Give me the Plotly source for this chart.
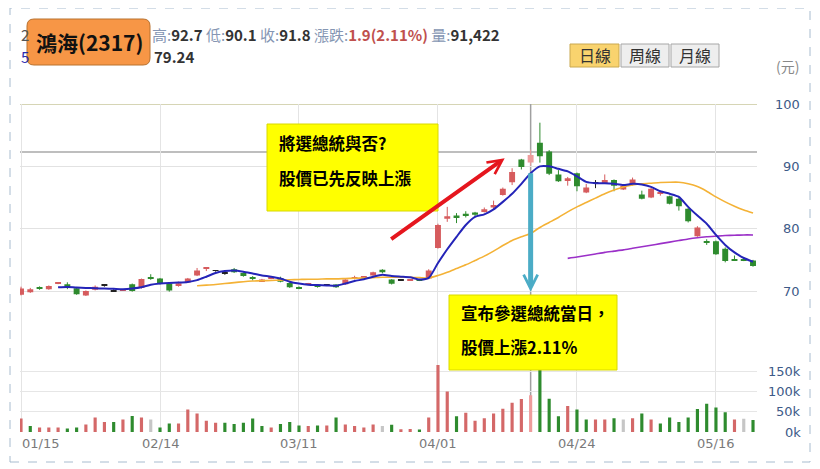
import plotly.graph_objects as go

# ---------------- data ----------------
dates = ['01/15','01/16','01/17','01/18','01/21','01/22','01/23','01/24','01/25','01/28','01/29','01/30',
         '02/11','02/12','02/13','02/14','02/15','02/18','02/19','02/20','02/21','02/22','02/25','02/26','02/27',
         '03/04','03/05','03/06','03/07','03/08','03/11','03/12','03/13','03/14','03/15','03/18','03/19','03/20',
         '03/21','03/22','03/25','03/26','03/27','03/28','03/29',
         '04/01','04/02','04/03','04/08','04/09','04/10','04/11','04/12','04/15','04/16','04/17','04/18','04/19',
         '04/22','04/23','04/24','04/25','04/26','04/29','04/30',
         '05/02','05/03','05/06','05/07','05/08','05/09','05/10','05/13','05/14','05/15','05/16','05/17','05/20',
         '05/21','05/22']

opens = [69.4, 69.8, 70.6, 70.3, 71.15, 71.1, 70.45, 69.3, 70.2, 70.9, 69.95, 70.1, 71.1, 70.5, 72.25, 72.0,
         71.2, 70.95, 71.35, 72.5, 73.55, 73.3, 72.85, 73.5, 72.9, 72.15, 71.55, 72.0, 72.1, 71.3, 70.5, 71.0,
         71.05, 71.0, 71.05, 71.1, 72.0, 72.15, 72.5, 73.4, 71.85, 71.75, 71.7, 71.8, 72.0, 76.9, 81.6, 82.1,
         82.4, 82.6, 82.8, 83.4, 85.4, 87.45, 91.1, 90.6, 93.8, 92.4, 88.7, 87.8, 88.9, 85.8, 87.4, 87.3, 87.8,
         86.3, 87.0, 85.5, 85.0, 85.6, 85.2, 84.8, 83.2, 78.8, 78.0, 78.0, 76.8, 75.05, 75.0, 74.9]
highs = [70.7, 70.5, 70.75, 70.9, 71.4, 71.4, 70.5, 70.1, 70.9, 71.1, 70.3, 70.25, 71.2, 72.0, 72.7, 72.1,
         71.25, 71.5, 72.1, 73.7, 73.75, 73.35, 73.1, 73.7, 73.0, 72.4, 71.95, 72.4, 72.3, 71.4, 70.75, 71.3,
         71.1, 71.1, 71.1, 71.9, 72.45, 72.4, 73.1, 73.5, 71.9, 71.85, 71.85, 71.85, 73.5, 80.8, 83.5, 82.5,
         82.8, 82.7, 83.4, 84.5, 86.6, 89.7, 91.2, 92.7, 97.0, 92.6, 89.4, 88.3, 89.0, 87.2, 87.8, 88.7, 87.9,
         87.0, 88.2, 86.1, 86.6, 85.85, 85.3, 85.0, 83.3, 80.4, 78.3, 78.1, 77.0, 75.7, 75.1, 75.0]
lows = [69.3, 69.7, 70.2, 70.2, 71.1, 70.3, 69.4, 69.2, 70.1, 70.7, 69.9, 70.05, 69.9, 70.4, 71.8, 71.05,
        69.9, 70.7, 71.3, 72.4, 73.2, 73.1, 72.6, 72.9, 72.3, 71.7, 71.45, 71.9, 71.4, 70.5, 70.3, 70.95,
        70.55, 70.9, 70.5, 71.0, 71.85, 72.1, 72.45, 72.85, 71.05, 71.65, 71.65, 71.6, 71.9, 76.8, 81.1, 80.9,
        81.8, 81.9, 82.6, 83.1, 85.3, 87.0, 89.5, 90.1, 90.6, 88.6, 87.5, 86.9, 86.0, 85.7, 86.5, 87.2, 86.0,
        86.2, 86.9, 84.7, 84.9, 85.3, 83.9, 82.9, 81.0, 78.7, 77.4, 75.8, 74.6, 74.85, 74.8, 73.9]
closes = [70.4, 70.3, 70.4, 70.8, 71.3, 70.5, 69.5, 70.0, 70.7, 70.9, 69.95, 70.2, 70.0, 71.95, 71.95, 71.2,
          70.1, 71.25, 72.0, 73.3, 73.7, 73.3, 72.85, 73.0, 72.4, 72.0, 71.85, 72.3, 71.5, 70.6, 70.35, 71.2,
          70.65, 71.0, 70.6, 71.85, 72.2, 72.35, 73.0, 73.0, 71.15, 71.75, 71.8, 71.7, 73.3, 80.6, 82.0, 81.7,
          82.15, 82.25, 83.1, 83.8, 86.4, 89.1, 89.9, 91.8, 91.6, 88.8, 87.6, 88.1, 86.8, 86.6, 87.4, 87.8, 86.9,
          86.9, 87.9, 84.8, 86.4, 85.8, 84.0, 83.6, 81.2, 80.2, 77.8, 75.9, 74.8, 74.9, 74.9, 74.0]
volumes = [33600, 14800, 11500, 11500, 11500, 9000, 11500, 18900, 36000, 24600, 24600, 31000, 40000, 36000,
           31000, 11500, 21000, 21000, 55700, 45900, 27900, 23000, 23000, 19700, 23000, 33600, 14800, 11500,
           19700, 24600, 16400, 14800, 16400, 16400, 36000, 18900, 14800, 11500, 18900, 14800, 18000, 6600,
           7500, 6000, 36000, 167000, 101000, 39000, 48000, 28000, 34000, 46000, 58000, 73000, 82000, 91422,
           180000, 83000, 39000, 65000, 56000, 31000, 31000, 31000, 34000, 31000, 34000, 46000, 31000, 21000,
           36000, 25000, 36000, 57000, 70000, 61000, 49000, 31000, 33000, 30000]
# volume colour direction versus the previous close: u = up, d = down, f = flat
vol_dir = ['u','d','u','u','u','d','d','u','u','u','d','u','d','u','f','d','d','u','u','u','u','u','d','d',
           'd','d','d','u','d','d','d','u','d','u','d','u','u','u','u','f','d','u','u','d','u','u','u','d',
           'u','u','u','u','u','u','u','u','d','d','d','u','d','d','u','u','d','f','u','d','u','d','d','d',
           'd','d','d','d','d','u','f','d']
ma5 = [None]*4 + [70.6, 70.65, 70.55, 70.5, 70.45, 70.4, 70.35, 70.3, 70.4, 70.6, 71.0, 71.2, 71.3, 71.35,
                  71.45, 71.75, 72.3, 72.9, 73.2, 73.3, 73.1, 72.8, 72.5, 72.3, 72.0, 71.5, 71.2, 71.0, 70.95,
                  70.9, 70.85, 71.2, 71.6, 71.9, 72.3, 72.6, 72.4, 72.3, 72.2, 71.85, 72.1, 74.5, 76.7, 78.7,
                  80.6, 81.9, 82.3, 83.1, 84.3, 85.6, 87.2, 88.9, 90.0, 90.0, 89.6, 89.2, 88.4, 87.5, 87.3,
                  87.3, 87.2, 87.0, 87.2, 87.1, 86.7, 86.0, 85.6, 85.1, 83.5, 82.1, 80.8, 79.0, 77.4, 76.2,
                  75.3, 74.7]
ma20 = [None]*19 + [70.85, 70.95, 71.05, 71.2, 71.35, 71.5, 71.6, 71.65, 71.7, 71.75, 71.8, 71.85, 71.9,
                    71.9, 71.95, 71.95, 72.0, 72.05, 72.1, 72.15, 72.2, 72.2, 72.2, 72.2, 72.15, 72.1, 72.5,
                    73.0, 73.6, 74.2, 74.9, 75.6, 76.4, 77.3, 78.1, 78.7, 79.24, 80.2, 81.0, 81.8, 82.7, 83.5,
                    84.2, 84.9, 85.6, 86.2, 86.7, 87.0, 87.2, 87.3, 87.4, 87.45, 87.45, 87.2, 86.75, 86.0,
                    85.1, 84.3, 83.6, 83.0, 82.5]
ma60 = [None]*59 + [75.24, 75.45, 75.7, 75.95, 76.2, 76.4, 76.6, 76.85, 77.1, 77.35, 77.6, 77.85, 78.1,
                    78.35, 78.55, 78.7, 78.8, 78.9, 78.95, 79.0, 79.0]

x_tick_labels = ['01/15', '02/14', '03/11', '04/01', '04/24', '05/16']
price_ticks = [70, 80, 90, 100]
vol_ticks = [0, 50000, 100000, 150000]
vol_tick_text = ['0k', '50k', '100k', '150k']
stock_name = '鴻海(2317)'
focus_date = '04/17'
note1 = ['將選總統與否?', '股價已先反映上漲']
note2 = ['宣布參選總統當日，', '股價上漲2.11%']
periods = ['日線', '周線', '月線']

# ---------------- styling helpers ----------------
RED, GREEN, BLACK = '#d65c5e', '#2e8b2e', '#222222'
HILITE = '#ee9c9c'
VOL_COL = {'u': '#d46868', 'd': '#2e8b2e', 'f': '#c6c6c6'}
CJK = 'Noto Sans CJK TC'

PAGE_OFF = 8                              # the page body margin
PX0, PW, PY1, PH = 20, 737, 432, 328      # plot area in screen pixels


def fx(px):
    return (px - PX0) / PW


def fy(py):
    return (PY1 - py) / PH


n = len(dates)
idx = list(range(n))
hl = dates.index(focus_date)

fig = go.Figure()

def ckind(o, c):
    return 'up' if c > o else ('down' if c < o else 'flat')

kinds = [ckind(o, c) for o, c in zip(opens, closes)]
kcol = {'up': RED, 'down': GREEN, 'flat': BLACK}
for k in ['up', 'down', 'flat', 'hl']:
    xs, ys = [], []
    for i in idx:
        kk = 'hl' if i == hl else kinds[i]
        if kk != k:
            continue
        xs += [i, i, None]
        ys += [lows[i], highs[i], None]
    fig.add_trace(go.Scatter(x=xs, y=ys, mode='lines', hoverinfo='skip',
                             line=dict(color=HILITE if k == 'hl' else kcol[k], width=1)))

bases, heights, bcols = [], [], []
for i in idx:
    o, c = opens[i], closes[i]
    h = abs(c - o)
    if h < 0.14:
        bases.append((o + c) / 2 - 0.07)
        heights.append(0.14)
    else:
        bases.append(min(o, c))
        heights.append(h)
    bcols.append(HILITE if i == hl else kcol[kinds[i]])
fig.add_trace(go.Bar(x=idx, y=heights, base=bases, width=0.64, marker=dict(color=bcols, line=dict(width=0)),
                     customdata=dates, yaxis='y', hoverinfo='skip'))

for vals, col, w in [(ma60, '#9b30c8', 1.6), (ma20, '#f4b236', 1.6), (ma5, '#2424b8', 2)]:
    xs = [i for i in idx if vals[i] is not None]
    ys = [vals[i] for i in xs]
    fig.add_trace(go.Scatter(x=xs, y=ys, mode='lines', line=dict(color=col, width=w, shape='spline', smoothing=0.6),
                             hoverinfo='skip'))

vcols = [HILITE if i == hl else VOL_COL[vol_dir[i]] for i in idx]
fig.add_trace(go.Bar(x=idx, y=volumes, width=0.34, marker=dict(color=vcols, line=dict(width=0)), yaxis='y2',
                     hoverinfo='skip'))

tick_idx = [dates.index(t) for t in x_tick_labels]

fig.update_layout(
    width=820 - PAGE_OFF, height=469 - PAGE_OFF,
    margin=dict(l=PX0 - PAGE_OFF, r=820 - PX0 - PW, t=PY1 - PH - PAGE_OFF, b=469 - PY1),
    paper_bgcolor='white', plot_bgcolor='white', showlegend=False, barmode='overlay',
    font=dict(family='DejaVu Sans', color='#333'),
    xaxis=dict(range=[-0.11, 79.43], tickvals=tick_idx, showticklabels=False, showgrid=True,
               gridcolor='#e4e4e4', zeroline=False, showline=False, ticks=''),
    yaxis=dict(domain=[0.245, 1], range=[60.28, 100], tickvals=[t for t in price_ticks if t < 100],
               showticklabels=False, gridcolor='#e2e2e2', zeroline=False, side='right'),
    yaxis2=dict(domain=[0, 0.245], range=[0, 200000], tickvals=vol_ticks + [200000], showticklabels=False,
                gridcolor='#e6e6e6', zeroline=False, side='right'),
)

shapes = []
ann = []
shapes.append(dict(type='line', xref='paper', yref='y', x0=0, x1=1, y0=100, y1=100,
                   line=dict(color='#c9c79c', width=1.5), layer='below'))
shapes.append(dict(type='line', xref='x', yref='paper', x0=hl, x1=hl, y0=0, y1=1,
                   line=dict(color='#a0a0a0', width=1.5), layer='below'))
shapes.append(dict(type='line', xref='paper', yref='y', x0=0, x1=1, y0=92.3, y1=92.3,
                   line=dict(color='#a8a8a8', width=1.5), layer='below'))
shapes.append(dict(type='rect', xref='paper', yref='paper', x0=fx(10), x1=fx(810), y0=fy(462), y1=fy(8),
                   line=dict(color='#a8bccf', width=1, dash='dash'), layer='below'))

for t, lab in zip(tick_idx, x_tick_labels):
    ann.append(dict(x=t if t > 0 else -0.1, y=fy(443), xref='x', yref='paper', text=lab, showarrow=False,
                    xanchor='left' if t == 0 else 'center', yanchor='middle',
                    font=dict(family='DejaVu Sans', size=13, color='#7a7a7a')))
for v in price_ticks:
    ann.append(dict(x=fx(802), y=v, xref='paper', yref='y', text=str(v), showarrow=False, xanchor='right',
                    yanchor='middle', font=dict(family='DejaVu Sans', size=13, color='#3d5a88')))
for v, lab in zip(vol_ticks, vol_tick_text):
    ann.append(dict(x=fx(803), y=v, xref='paper', yref='y2', text=lab, showarrow=False, xanchor='right',
                    yanchor='middle', font=dict(family='DejaVu Sans', size=13, color='#3d5a88')))
ann.append(dict(x=fx(788), y=fy(66), xref='paper', yref='paper', text='(元)', showarrow=False,
                xanchor='center', yanchor='middle', font=dict(family=CJK, size=14, color='#888')))

chg = closes[hl] - closes[hl - 1]
pct = chg / closes[hl - 1] * 100


def lab(s):
    return "<span style='color:#8596b3'>" + s + "</span>"

row1 = (lab('高:') + '<b>%.1f</b> ' % highs[hl] + lab('低:') + '<b>%.1f</b> ' % lows[hl] +
        lab('收:') + '<b>%.1f</b> ' % closes[hl] + lab('漲跌:') +
        "<span style='color:#c0504d'><b>%.1f(%.2f%%)</b></span> " % (chg, pct) +
        lab('量:') + '<b>{:,}</b>'.format(volumes[hl]))
ann.append(dict(x=fx(150), y=fy(34), xref='paper', yref='paper', text=row1, showarrow=False, xanchor='left',
                yanchor='middle', font=dict(family=CJK, size=15, color='#333')))
ann.append(dict(x=fx(152), y=fy(57), xref='paper', yref='paper', text='<b>%.2f</b>' % ma20[hl], showarrow=False,
                xanchor='left', yanchor='middle', font=dict(family=CJK, size=15, color='#333')))
ann.append(dict(x=fx(19), y=fy(34), xref='paper', yref='paper', text='2', showarrow=False, xanchor='left',
                yanchor='middle', font=dict(family=CJK, size=15, color='#555')))
ann.append(dict(x=fx(19), y=fy(57), xref='paper', yref='paper', text='5', showarrow=False, xanchor='left',
                yanchor='middle', font=dict(family=CJK, size=15, color='#2a2ab0')))


def rrect(x0, y0, x1, y1, r):
    pts = ('M {a},{b} L {c},{b} Q {d},{b} {d},{e} L {d},{f} Q {d},{g} {c},{g} L {a},{g} Q {h},{g} {h},{f} '
           'L {h},{e} Q {h},{b} {a},{b} Z')
    return pts.format(a=fx(x0 + r), b=fy(y0), c=fx(x1 - r), d=fx(x1), e=fy(y0 + r), f=fy(y1 - r), g=fy(y1),
                      h=fx(x0))

shapes.append(dict(type='path', xref='paper', yref='paper', path=rrect(27, 19, 150, 65, 7),
                   fillcolor='#f79646', line=dict(color='#b9722f', width=1), layer='above'))
ann.append(dict(x=fx(89), y=fy(42), xref='paper', yref='paper', text='<b>%s</b>' % stock_name, showarrow=False,
                xanchor='center', yanchor='middle', font=dict(family=CJK, size=21, color='#111')))

btn_x = [(570, 619), (621, 669), (671, 719)]
for k, (label, (a, b)) in enumerate(zip(periods, btn_x)):
    shapes.append(dict(type='rect', xref='paper', yref='paper', x0=fx(a), x1=fx(b), y0=fy(67), y1=fy(44),
                       fillcolor='#f9d36e' if k == 0 else '#eeeeee',
                       line=dict(color='#c9a851' if k == 0 else '#a6a6a6', width=1), layer='above'))
    ann.append(dict(x=fx((a + b) / 2), y=fy(55.5), xref='paper', yref='paper', text=label, showarrow=False,
                    xanchor='center', yanchor='middle', font=dict(family=CJK, size=16, color='#333')))

for (x0, y0, x1, y1), lines, lys in [((267, 124, 438, 211), note1, (143, 178)),
                                      ((449, 295, 617, 370), note2, (313, 347))]:
    shapes.append(dict(type='rect', xref='paper', yref='paper', x0=fx(x0), x1=fx(x1), y0=fy(y1), y1=fy(y0),
                       fillcolor='#ffff00', line=dict(color='#d8d800', width=1), layer='above'))
    for txt, ly in zip(lines, lys):
        ann.append(dict(x=fx(x0 + 10), y=fy(ly), xref='paper', yref='paper', text='<b>%s</b>' % txt,
                        showarrow=False, xanchor='left', yanchor='middle',
                        font=dict(family=CJK, size=16.5, color='#000')))

ann.append(dict(x=52.2, y=91.3, xref='x', yref='y', ax=-115, ay=82, text='', showarrow=True, arrowhead=5,
                arrowsize=0.7, arrowwidth=4, arrowcolor='#e5161e'))
ann.append(dict(x=hl, y=69.9, xref='x', yref='y', ax=0, ay=-120, text='', showarrow=True, arrowhead=5,
                arrowsize=0.55, arrowwidth=5, arrowcolor='#4bacc6'))

fig.update_layout(shapes=shapes, annotations=ann)
fig.write_html('out.html')
